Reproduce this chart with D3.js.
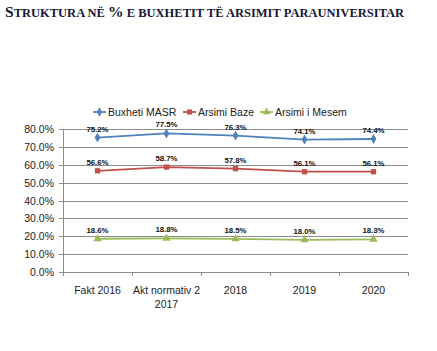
<!DOCTYPE html>
<html><head><meta charset="utf-8">
<script src="https://cdn.jsdelivr.net/npm/d3@7"></script>
<style>body{margin:0;background:#fff}svg{display:block}</style>
</head><body><svg id="c" width="437" height="351"></svg>
<script>
const categories = [["Fakt 2016"], ["Akt normativ 2", "2017"], ["2018"], ["2019"], ["2020"]];
const seriesNames = ["Buxheti MASR", "Arsimi Baze", "Arsimi i Mesem"];
const buxhetiMASR = [75.2, 77.5, 76.3, 74.1, 74.4];
const arsimiBaze = [56.6, 58.7, 57.8, 56.1, 56.1];
const arsimiMesem = [18.6, 18.8, 18.5, 18.0, 18.3];
const yTicks = [0, 10, 20, 30, 40, 50, 60, 70, 80];
const colors = ["#4F81BD", "#C0504D", "#9BBB59"];
const symbols = [d3.symbolDiamond, d3.symbolSquare, d3.symbolTriangle];
const series = [buxhetiMASR, arsimiBaze, arsimiMesem];
const titleParts = [["S", true], ["TRUKTURA NË ", false], ["%", true], [" E BUXHETIT TË ARSIMIT PARAUNIVERSITAR", false]];

const svg = d3.select("#c");
const pLeft = 63, pRight = 408, pTop = 129, pBottom = 272;
const x = d3.scaleBand().domain(d3.range(categories.length)).range([pLeft, pRight]);
const y = d3.scaleLinear().domain([0, 80]).range([pBottom, pTop]);

const title = svg.append("text").attr("x", 5).attr("y", 17)
  .attr("font-family", "Liberation Serif").attr("font-weight", "bold")
  .attr("fill", "#17173a").attr("xml:space", "preserve").style("white-space", "pre");
title.selectAll("tspan").data(titleParts).join("tspan")
  .attr("font-size", d => d[1] ? 15.5 : 12.5).text(d => d[0]);

// gridlines
svg.append("g").selectAll("line").data(yTicks).join("line")
  .attr("x1", pLeft - 4).attr("x2", pRight).attr("y1", d => Math.round(y(d)) + 0.5).attr("y2", d => Math.round(y(d)) + 0.5)
  .attr("stroke", "#8c8c8c").attr("stroke-width", 1);
svg.append("line").attr("x1", pLeft + 0.5).attr("x2", pLeft + 0.5).attr("y1", pTop).attr("y2", pBottom + 4)
  .attr("stroke", "#8c8c8c");
// x ticks
const bounds = d3.range(categories.length + 1).map(i => pLeft + i * x.bandwidth());
svg.append("g").selectAll("line").data(bounds).join("line")
  .attr("x1", d => Math.round(d) + 0.5).attr("x2", d => Math.round(d) + 0.5)
  .attr("y1", pBottom).attr("y2", pBottom + 4).attr("stroke", "#8c8c8c");

// y labels
svg.append("g").selectAll("text").data(yTicks).join("text")
  .attr("x", 54).attr("y", d => y(d) + 4).attr("text-anchor", "end")
  .attr("font-family", "Liberation Sans").attr("font-size", 10.5).attr("fill", "#222")
  .text(d => d.toFixed(1) + "%");

// x labels
const xl = svg.append("g").selectAll("text").data(categories).join("text")
  .attr("text-anchor", "middle").attr("font-family", "Liberation Sans").attr("font-size", 10.5).attr("fill", "#222");
xl.each(function(d, i) {
  d3.select(this).selectAll("tspan").data(d).join("tspan")
    .attr("x", x(i) + x.bandwidth() / 2).attr("y", (t, j) => 294 + j * 14).text(t => t);
});

// lines
const line = d3.line().x((d, i) => x(i) + x.bandwidth() / 2).y(d => y(d));
series.forEach((s, k) => {
  svg.append("path").attr("d", line(s)).attr("fill", "none").attr("stroke", colors[k]).attr("stroke-width", 1.8);
  svg.append("g").selectAll("path").data(s).join("path")
    .attr("transform", (d, i) => `translate(${x(i) + x.bandwidth() / 2},${y(d)})`)
    .attr("d", d3.symbol().type(symbols[k]).size(k === 2 ? 30 : 28)).attr("fill", colors[k]);
  svg.append("g").selectAll("text").data(s).join("text")
    .attr("x", (d, i) => x(i) + x.bandwidth() / 2).attr("y", d => y(d) - 6)
    .attr("text-anchor", "middle").attr("font-family", "Liberation Sans").attr("font-weight", "bold")
    .attr("font-size", 7.8).attr("fill", "#111").text(d => d.toFixed(1) + "%");
});

// legend
const legX = [93, 183, 260];
seriesNames.forEach((n, k) => {
  const g = svg.append("g").attr("transform", `translate(${legX[k]},112)`);
  g.append("line").attr("x1", 0).attr("x2", 13).attr("stroke", colors[k]).attr("stroke-width", 1.8);
  g.append("path").attr("transform", "translate(6.5,0)").attr("d", d3.symbol().type(symbols[k]).size(26)).attr("fill", colors[k]);
  g.append("text").attr("x", 15).attr("y", 4).attr("font-family", "Liberation Sans").attr("font-size", 10.5)
    .attr("fill", "#222").text(n);
});
</script></body></html>
